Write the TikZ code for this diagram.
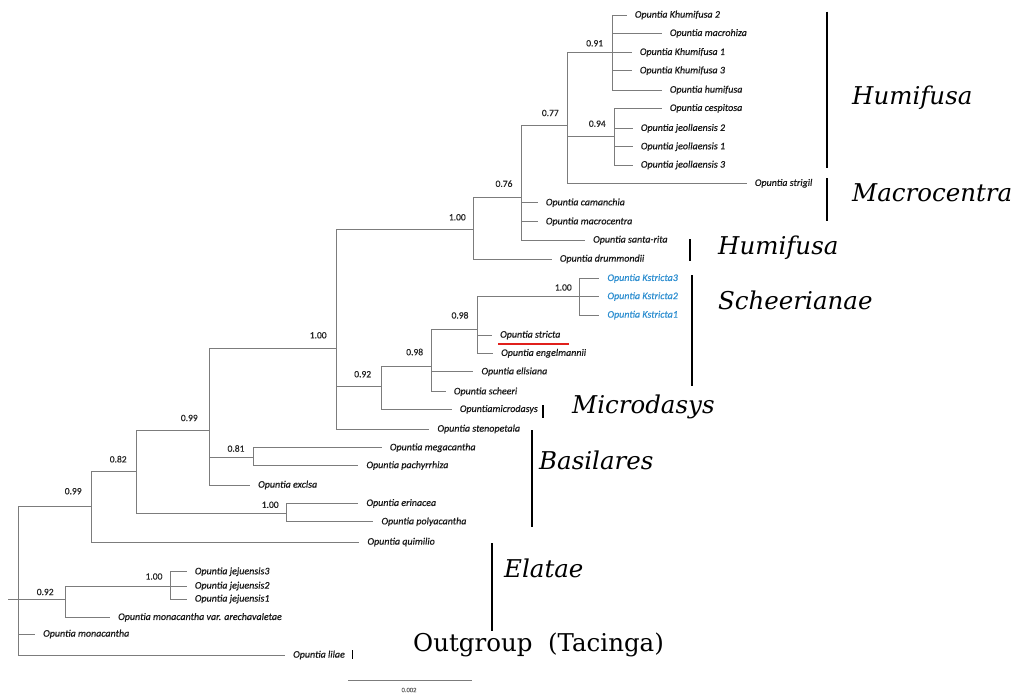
\documentclass[tikz,border=0pt]{standalone}
\usepackage{fontspec}
\newfontfamily\taxfont[FakeBold=0.6]{Carlito}
\newfontfamily\grpfont{DejaVu Serif}
\usetikzlibrary{calc}
\definecolor{branchgray}{HTML}{7C7C7C}
\definecolor{kblue}{HTML}{2F8FD0}
\definecolor{ulred}{HTML}{E0201C}
\begin{document}
\begin{tikzpicture}[x=1pt,y=-1pt,
  branch/.style={draw=branchgray, line width=1pt},
  taxon/.style={anchor=west, inner sep=0pt, xshift=8pt, text=black!90,
    font=\taxfont\itshape\fontsize{10}{12}\selectfont},
  ktaxon/.style={taxon, text=kblue},
  bs/.style={inner sep=0pt, text=black!85, font=\taxfont\fontsize{9.5}{11}\selectfont},
  grp/.style={anchor=west, inner sep=0pt, font=\grpfont\itshape\fontsize{24.5}{28}\selectfont},
  grpup/.style={anchor=west, inner sep=0pt, font=\grpfont\fontsize{24.5}{28}\selectfont},
  bar/.style={draw=black, line width=1.2pt},
  scalebar/.style={draw=branchgray, line width=1pt}]
\useasboundingbox (0,0) rectangle (1020,697);

% ---------- internal nodes ----------
\coordinate (rootstub) at (8,599);
\coordinate (R) at (18,599);
\coordinate (N099a) at (91.7,506.7);
\coordinate (N082) at (136.7,471.7);
\coordinate (N099b) at (209.3,430);
\coordinate (N081) at (253.5,457);
\coordinate (N100e) at (286.7,513.3);
\coordinate (N100big) at (336.7,348.3);
\coordinate (N100top) at (473.3,229.3);
\coordinate (N076) at (521,197.7);
\coordinate (N077) at (567.3,125);
\coordinate (N091) at (612.7,52.3);
\coordinate (N094) at (614.3,136.7);
\coordinate (N092) at (381.7,386.7);
\coordinate (N098b) at (431.7,366);
\coordinate (N098a) at (477,329.3);
\coordinate (N100k) at (579.3,296.5);
\coordinate (N092r) at (65.7,599);
\coordinate (N100j) at (170,586);

% ---------- leaves ----------
\coordinate (k2) at (626.7,15);
\coordinate (mh) at (661.7,33.3);
\coordinate (k1) at (631.7,52.3);
\coordinate (k3) at (631.7,70.7);
\coordinate (hu) at (661.7,90);
\coordinate (ce) at (661.7,108.3);
\coordinate (jl2) at (632.7,128.3);
\coordinate (jl1) at (632.7,146.7);
\coordinate (jl3) at (632.7,165);
\coordinate (sg) at (746.7,183.3);
\coordinate (ca) at (537.7,202.7);
\coordinate (mc) at (537.7,221.7);
\coordinate (sr) at (585,240);
\coordinate (dr) at (551.7,259);
\coordinate (ks3) at (599.3,278.3);
\coordinate (ks2) at (599.3,296.5);
\coordinate (ks1) at (599.3,315);
\coordinate (sc) at (492,335);
\coordinate (en) at (493,353.3);
\coordinate (el) at (473.3,371.7);
\coordinate (sh) at (445.7,391.7);
\coordinate (md) at (451.7,409.3);
\coordinate (sp) at (429.3,429);
\coordinate (mg) at (381.7,447.7);
\coordinate (pa) at (358.3,465.5);
\coordinate (ex) at (250,485);
\coordinate (er) at (358.3,503.3);
\coordinate (po) at (373.3,521.7);
\coordinate (qu) at (359.3,542);
\coordinate (je3) at (186.7,571.7);
\coordinate (je2) at (186.7,586);
\coordinate (je1) at (186.7,599);
\coordinate (ar) at (110,617.3);
\coordinate (mo) at (35,634);
\coordinate (li) at (285,655);

% ---------- branches ----------
\draw[branch] (rootstub) -- (R);
\foreach \c in {N099a,N092r,mo,li} \draw[branch] (R) |- (\c);
\foreach \c in {N082,qu} \draw[branch] (N099a) |- (\c);
\foreach \c in {N099b,N100e} \draw[branch] (N082) |- (\c);
\foreach \c in {N100big,N081,ex} \draw[branch] (N099b) |- (\c);
\foreach \c in {mg,pa} \draw[branch] (N081) |- (\c);
\foreach \c in {er,po} \draw[branch] (N100e) |- (\c);
\foreach \c in {N100top,N092,sp} \draw[branch] (N100big) |- (\c);
\foreach \c in {N076,dr} \draw[branch] (N100top) |- (\c);
\foreach \c in {N077,ca,mc,sr} \draw[branch] (N076) |- (\c);
\foreach \c in {N091,N094,sg} \draw[branch] (N077) |- (\c);
\foreach \c in {k2,mh,k1,k3,hu} \draw[branch] (N091) |- (\c);
\foreach \c in {ce,jl2,jl1,jl3} \draw[branch] (N094) |- (\c);
\foreach \c in {N098b,md} \draw[branch] (N092) |- (\c);
\foreach \c in {N098a,el,sh} \draw[branch] (N098b) |- (\c);
\foreach \c in {N100k,sc,en} \draw[branch] (N098a) |- (\c);
\foreach \c in {ks3,ks2,ks1} \draw[branch] (N100k) |- (\c);
\foreach \c in {N100j,ar} \draw[branch] (N092r) |- (\c);
\foreach \c in {je3,je2,je1} \draw[branch] (N100j) |- (\c);

% ---------- taxon labels ----------
\node[taxon] (Lk2) at (k2) {Opuntia Khumifusa 2};
\node[taxon] (Lmh) at (mh) {Opuntia macrohiza};
\node[taxon] (Lk1) at (k1) {Opuntia Khumifusa 1};
\node[taxon] (Lk3) at (k3) {Opuntia Khumifusa 3};
\node[taxon] (Lhu) at (hu) {Opuntia humifusa};
\node[taxon] (Lce) at (ce) {Opuntia cespitosa};
\node[taxon] (Ljl2) at (jl2) {Opuntia jeollaensis 2};
\node[taxon] (Ljl1) at (jl1) {Opuntia jeollaensis 1};
\node[taxon] (Ljl3) at (jl3) {Opuntia jeollaensis 3};
\node[taxon] (Lsg) at (sg) {Opuntia strigil};
\node[taxon] (Lca) at (ca) {Opuntia camanchia};
\node[taxon] (Lmc) at (mc) {Opuntia macrocentra};
\node[taxon] (Lsr) at (sr) {Opuntia santa-rita};
\node[taxon] (Ldr) at (dr) {Opuntia drummondii};
\node[ktaxon] (Lks3) at (ks3) {Opuntia Kstricta3};
\node[ktaxon] (Lks2) at (ks2) {Opuntia Kstricta2};
\node[ktaxon] (Lks1) at (ks1) {Opuntia Kstricta1};
\node[taxon] (Lsc) at (sc) {Opuntia stricta};
\node[taxon] (Len) at (en) {Opuntia engelmannii};
\node[taxon] (Lel) at (el) {Opuntia ellsiana};
\node[taxon] (Lsh) at (sh) {Opuntia scheeri};
\node[taxon] (Lmd) at (md) {Opuntiamicrodasys};
\node[taxon] (Lsp) at (sp) {Opuntia stenopetala};
\node[taxon] (Lmg) at (mg) {Opuntia megacantha};
\node[taxon] (Lpa) at (pa) {Opuntia pachyrrhiza};
\node[taxon] (Lex) at (ex) {Opuntia exclsa};
\node[taxon] (Ler) at (er) {Opuntia erinacea};
\node[taxon] (Lpo) at (po) {Opuntia polyacantha};
\node[taxon] (Lqu) at (qu) {Opuntia quimilio};
\node[taxon] (Lje3) at (je3) {Opuntia jejuensis3};
\node[taxon] (Lje2) at (je2) {Opuntia jejuensis2};
\node[taxon] (Lje1) at (je1) {Opuntia jejuensis1};
\node[taxon] (Lar) at (ar) {Opuntia monacantha var. arechavaletae};
\node[taxon] (Lmo) at (mo) {Opuntia monacantha};
\node[taxon] (Lli) at (li) {Opuntia lilae};

% red underline under Opuntia stricta
\coordinate (ul1) at (498,344);
\coordinate (ul2) at (569,344);
\draw[ulred, line width=1.2pt] (ul1) -- (ul2);

% ---------- support values ----------
\node[bs] (B091) at ($(N091)+(-18,-9)$) {0.91};
\node[bs] (B094) at ($(N094)+(-17,-13)$) {0.94};
\node[bs] (B077) at ($(N077)+(-17,-12)$) {0.77};
\node[bs] (B076) at ($(N076)+(-17,-14)$) {0.76};
\node[bs] (B100top) at ($(N100top)+(-16,-12)$) {1.00};
\node[bs] (B100k) at ($(N100k)+(-16,-9)$) {1.00};
\node[bs] (B098a) at ($(N098a)+(-17,-14)$) {0.98};
\node[bs] (B098b) at ($(N098b)+(-17,-14)$) {0.98};
\node[bs] (B092) at ($(N092)+(-19,-12.5)$) {0.92};
\node[bs] (B100big) at ($(N100big)+(-18.5,-13)$) {1.00};
\node[bs] (B099b) at ($(N099b)+(-20,-12)$) {0.99};
\node[bs] (B081) at ($(N081)+(-17.5,-8.5)$) {0.81};
\node[bs] (B100e) at ($(N100e)+(-16.5,-8.5)$) {1.00};
\node[bs] (B082) at ($(N082)+(-18.5,-12.5)$) {0.82};
\node[bs] (B099a) at ($(N099a)+(-18.5,-15.5)$) {0.99};
\node[bs] (B092r) at ($(N092r)+(-20.5,-7)$) {0.92};
\node[bs] (B100j) at ($(N100j)+(-16,-9.5)$) {1.00};

% ---------- group bars and labels ----------
\coordinate (g1a) at (827,11.7);  \coordinate (g1b) at (827,168);
\coordinate (g2a) at (827,178);   \coordinate (g2b) at (827,221);
\coordinate (g3a) at (690,239);   \coordinate (g3b) at (690,261);
\coordinate (g4a) at (692,275);   \coordinate (g4b) at (692,386);
\coordinate (g5a) at (543,405);   \coordinate (g5b) at (543,418);
\coordinate (g6a) at (532,430);   \coordinate (g6b) at (532,527);
\coordinate (g7a) at (492,543);   \coordinate (g7b) at (492,631);
\coordinate (g8a) at (352.7,650); \coordinate (g8b) at (352.7,659);
\foreach \i in {1,...,8} \draw[bar] (g\i a) -- (g\i b);

\node[grp] (G1) at (852,98) {Humifusa};
\node[grp] (G2) at (852,193) {Macrocentra};
\node[grp] (G3) at (718,248) {Humifusa};
\node[grp] (G4) at (718,300) {Scheerianae};
\node[grp] (G5) at (572,407) {Microdasys};
\node[grp] (G6) at (539,460) {Basilares};
\node[grp] (G7) at (504,568) {Elatae};
\node[grpup] (G8) at (413,645) {Outgroup\ \ (Tacinga)};

% ---------- scale bar ----------
\coordinate (sb1) at (348.3,680);
\coordinate (sb2) at (471.7,680);
\draw[scalebar] (sb1) -- (sb2);
\node[inner sep=0pt, text=black!60, font=\taxfont\fontsize{6.5}{8}\selectfont] (SB) at (409,690) {0.002};
\end{tikzpicture}
\end{document}
